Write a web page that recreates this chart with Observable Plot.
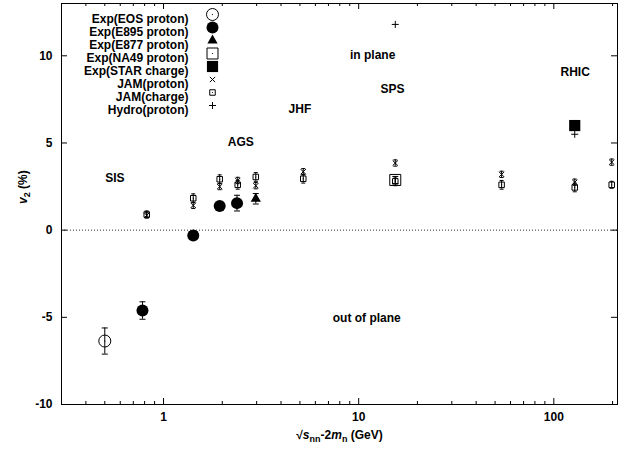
<!DOCTYPE html>
<html><head><meta charset="utf-8">
<script src="https://cdn.jsdelivr.net/npm/d3@7"></script>
<script src="https://cdn.jsdelivr.net/npm/@observablehq/plot@0.6"></script>
<style>body{margin:0;background:#fff}</style>
</head><body><div id="chart"></div>
<script>
// ---- data ----
const eosX = [0.50], eosY = [-6.36], eosErr = [0.75];
const e895X = [0.78, 1.42, 1.94, 2.38], e895Y = [-4.61, -0.3, 1.38, 1.55], e895Err = [0.5, 0.15, 0.15, 0.45];
const e877X = [2.97], e877Y = [1.8], e877Err = [0.3];
const na49X = [15.4], na49Y = [2.88], na49Err = [0.2];
const starX = [128], starY = [6.0], starErr = [0.15];
const jamX = [0.82, 1.42, 1.94, 2.40, 2.97, 5.2, 15.4, 54, 128, 198];
const jamProton = [0.85, 1.42, 2.5, 2.85, 2.55, 3.35, 3.85, 3.2, 2.75, 3.9];
const jamProtonErr = [0.15, 0.18, 0.18, 0.18, 0.18, 0.18, 0.18, 0.18, 0.18, 0.18];
const jamCharge = [0.9, 1.83, 2.92, 2.6, 3.05, 2.95, 2.8, 2.6, 2.45, 2.6];
const jamChargeErr = [0.2, 0.25, 0.25, 0.25, 0.25, 0.25, 0.25, 0.25, 0.25, 0.2];
const hydroX = [15.4, 128], hydroY = [11.8, 5.5];

const legendLabels = ["Exp(EOS proton)", "Exp(E895 proton)", "Exp(E877 proton)", "Exp(NA49 proton)",
  "Exp(STAR charge)", "JAM(proton)", "JAM(charge)", "Hydro(proton)"];

const annotations = ["SIS", "AGS", "JHF", "in plane", "SPS", "RHIC", "out of plane"];
const annotX = [0.563, 2.49, 5.0, 11.8, 14.9, 128.6, 11.0];
const annotY = [2.98, 5.06, 6.96, 10.03, 8.11, 9.04, -5.04];

const xMajor = [1, 10, 100], xMajorLabels = ["1", "10", "100"];
const xMinor = [0.4, 0.5, 0.6, 0.7, 0.8, 0.9, 2, 3, 4, 5, 6, 7, 8, 9, 20, 30, 40, 50, 60, 70, 80, 90, 200];
const yMajor = [-10, -5, 0, 5, 10], yMajorLabels = ["-10", "-5", "0", "5", "10"];
const xDomain = [0.3, 212], yDomain = [-10, 13];

// ---- build tables ----
const pts = (xs, ys, es) => xs.map((x, i) => ({x, y: ys[i], e: es ? es[i] : 0}));
const eos = pts(eosX, eosY, eosErr), e895 = pts(e895X, e895Y, e895Err), e877 = pts(e877X, e877Y, e877Err);
const na49 = pts(na49X, na49Y, na49Err), star = pts(starX, starY, starErr);
const jamP = pts(jamX, jamProton, jamProtonErr), jamC = pts(jamX, jamCharge, jamChargeErr);
const hydro = pts(hydroX, hydroY);
const annot = annotations.map((t, i) => ({t, x: annotX[i], y: annotY[i]}));

const W = 622, H = 449, mL = 61, mR = 5, mT = 3, mB = 45;
const plotW = W - mL - mR, plotH = H - mT - mB;

const cap = {draw(ctx, size) { const r = Math.sqrt(size) / 2; ctx.moveTo(-r, 0); ctx.lineTo(r, 0); }};
const capR = w => Math.sqrt(w * w / Math.PI);

function errBars(data, capW) {
  return [
    Plot.ruleX(data, {x: "x", y1: d => d.y - d.e, y2: d => d.y + d.e, stroke: "black", strokeWidth: 1}),
    Plot.dot(data, {x: "x", y: d => d.y - d.e, symbol: cap, r: capR(capW), fill: "none", stroke: "black", strokeWidth: 1}),
    Plot.dot(data, {x: "x", y: d => d.y + d.e, symbol: cap, r: capR(capW), fill: "none", stroke: "black", strokeWidth: 1})
  ];
}

// symbol styles per series (legend order)
const styles = [
  {symbol: "circle", r: 6, fill: "none", stroke: "black", strokeWidth: 1, centerDot: true},
  {symbol: "circle", r: 6, fill: "black", stroke: "none"},
  {symbol: "triangle", r: 3.8, fill: "black", stroke: "none"},
  {symbol: "square2", r: 7, fill: "none", stroke: "black", strokeWidth: 1, centerDot: true},
  {symbol: "square", r: 6.3, fill: "black", stroke: "none"},
  {symbol: "times", r: 2.5, fill: "none", stroke: "black", strokeWidth: 1},
  {symbol: "square2", r: 3.5, fill: "none", stroke: "black", strokeWidth: 1, centerDot: true},
  {symbol: "plus", r: 2.4, fill: "none", stroke: "black", strokeWidth: 1}
];
const seriesData = [eos, e895, e877, na49, star, jamP, jamC, hydro];

function seriesMarks(data, s) {
  const {centerDot, ...opt} = s;
  const m = [Plot.dot(data, {x: "x", y: "y", ...opt})];
  if (centerDot) m.push(Plot.dot(data, {x: "x", y: "y", r: 0.6, fill: "black"}));
  return m;
}

const legendMarks = [];
legendLabels.forEach((label, i) => {
  const dy = 11 + 13 * i;
  legendMarks.push(Plot.text([label], {text: d => d, frameAnchor: "top-left", dx: 127, dy, textAnchor: "end", fontWeight: "bold"}));
  const {centerDot, ...opt} = styles[i];
  legendMarks.push(Plot.dot([label], {frameAnchor: "top-left", dx: 151, dy, ...opt}));
  if (centerDot) legendMarks.push(Plot.dot([label], {frameAnchor: "top-left", dx: 151, dy, r: 0.6, fill: "black"}));
});

const chart = Plot.plot({
  width: W, height: H,
  marginLeft: mL, marginRight: mR, marginTop: mT, marginBottom: mB,
  style: {fontFamily: "'Liberation Sans', Arial, sans-serif", fontSize: "12px", fontWeight: "bold", background: "white", color: "black"},
  x: {type: "log", domain: xDomain, axis: null},
  y: {domain: yDomain, axis: null},
  marks: [
    Plot.ruleY([0], {y: d => d, stroke: "black", strokeWidth: 0.8, strokeDasharray: "1,2"}),
    // ticks (inward, mirrored)
    Plot.tickX(xMajor, {x: d => d, insetTop: plotH - 6, stroke: "black"}),
    Plot.tickX(xMajor, {x: d => d, insetBottom: plotH - 6, stroke: "black"}),
    Plot.tickX(xMinor, {x: d => d, insetTop: plotH - 3, stroke: "black"}),
    Plot.tickX(xMinor, {x: d => d, insetBottom: plotH - 3, stroke: "black"}),
    Plot.tickY(yMajor, {y: d => d, insetRight: plotW - 6, stroke: "black"}),
    Plot.tickY(yMajor, {y: d => d, insetLeft: plotW - 6, stroke: "black"}),
    Plot.frame({stroke: "black", strokeWidth: 1}),
    // tick labels
    Plot.text(xMajor, {x: d => d, text: (d, i) => xMajorLabels[i], frameAnchor: "bottom", dy: 13, lineAnchor: "middle", fontWeight: "bold"}),
    Plot.text(yMajor, {y: d => d, text: (d, i) => yMajorLabels[i], frameAnchor: "left", dx: -9, textAnchor: "end", fontWeight: "bold"}),
    // axis titles
    Plot.text(["XTITLE"], {text: d => d, frameAnchor: "bottom", dy: 31, lineAnchor: "middle", fontWeight: "bold"}),
    Plot.text(["YTITLE"], {text: d => d, frameAnchor: "left", dx: -38, rotate: -90, lineAnchor: "middle", fontWeight: "bold"}),
    // annotations
    Plot.text(annot, {x: "x", y: "y", text: "t", fontWeight: "bold"}),
    // error bars
    ...errBars(eos, 6), ...errBars(e895, 6), ...errBars(e877, 6), ...errBars(na49, 6), ...errBars(star, 6),
    ...errBars(jamP, 4), ...errBars(jamC, 4),
    // points
    ...seriesData.flatMap((d, i) => seriesMarks(d, styles[i])),
    ...legendMarks
  ]
});

chart.querySelectorAll("text").forEach(t => {
  if (t.textContent === "XTITLE") {
    t.innerHTML = '\u221A<tspan font-style="italic">s</tspan><tspan dy="3" font-size="9">nn</tspan><tspan dy="-3">-2</tspan><tspan font-style="italic">m</tspan><tspan dy="3" font-size="9">n</tspan><tspan dy="-3"> (GeV)</tspan>';
  } else if (t.textContent === "YTITLE") {
    t.innerHTML = '<tspan font-style="italic">v</tspan><tspan dy="3" font-size="9">2</tspan><tspan dy="-3"> (%)</tspan>';
  }
});
document.getElementById("chart").appendChild(chart);
</script>
</body></html>
